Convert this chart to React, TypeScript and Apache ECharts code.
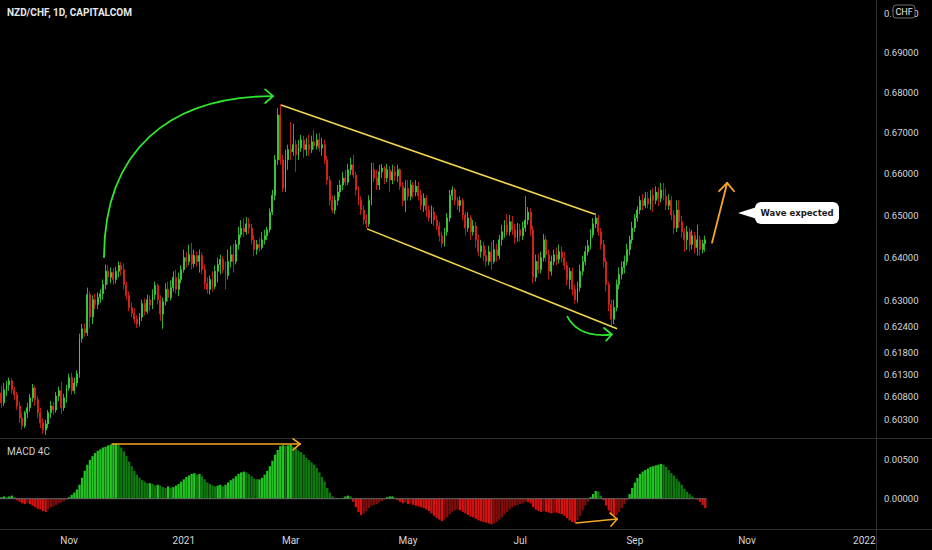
import React, { useEffect, useRef } from "react";
import * as echarts from "echarts";

// ---------- time slots (weekday bars, TradingView style) ----------
const START_DATE = Date.UTC(2020, 8, 25);
const SLOT_COUNT = 336;
const monthNames = ["Jan", "Feb", "Mar", "Apr", "May", "Jun", "Jul", "Aug", "Sep", "Oct", "Nov", "Dec"];
const labelMonths = [0, 2, 4, 6, 8, 10];

// ---------- price data (NZD/CHF daily) ----------
const opens = [
  0.6089,0.6067,0.6096,0.6107,0.6116,0.6096,0.6085,0.6060,0.6033,0.6016,
  0.6045,0.6056,0.6078,0.6100,0.6074,0.6045,0.6022,0.6007,0.6020,0.6045,
  0.6060,0.6051,0.6082,0.6094,0.6056,0.6078,0.6100,0.6123,0.6094,0.6111,
  0.6132,0.6212,0.6234,0.6225,0.6313,0.6261,0.6301,0.6290,0.6306,0.6315,
  0.6336,0.6367,0.6353,0.6364,0.6348,0.6367,0.6381,0.6371,0.6336,0.6311,
  0.6283,0.6270,0.6256,0.6245,0.6261,0.6292,0.6274,0.6301,0.6288,0.6313,
  0.6334,0.6301,0.6268,0.6297,0.6325,0.6306,0.6329,0.6353,0.6325,0.6348,
  0.6371,0.6399,0.6390,0.6406,0.6385,0.6404,0.6390,0.6404,0.6371,0.6339,
  0.6325,0.6348,0.6332,0.6367,0.6383,0.6395,0.6371,0.6357,0.6390,0.6406,
  0.6390,0.6430,0.6453,0.6469,0.6460,0.6479,0.6469,0.6441,0.6418,0.6430,
  0.6423,0.6441,0.6451,0.6465,0.6507,0.6547,0.6633,0.6743,0.6633,0.6564,
  0.6633,0.6658,0.6653,0.6670,0.6645,0.6662,0.6682,0.6658,0.6670,0.6658,
  0.6677,0.6667,0.6682,0.6662,0.6670,0.6633,0.6584,0.6535,0.6512,0.6535,
  0.6555,0.6572,0.6589,0.6579,0.6609,0.6621,0.6596,0.6560,0.6535,0.6512,
  0.6488,0.6479,0.6535,0.6609,0.6589,0.6572,0.6604,0.6613,0.6589,0.6609,
  0.6584,0.6604,0.6594,0.6609,0.6569,0.6535,0.6564,0.6545,0.6572,0.6555,
  0.6569,0.6547,0.6523,0.6540,0.6512,0.6493,0.6507,0.6488,0.6474,0.6451,
  0.6432,0.6460,0.6493,0.6547,0.6560,0.6535,0.6523,0.6535,0.6500,0.6469,
  0.6493,0.6460,0.6474,0.6441,0.6413,0.6427,0.6404,0.6390,0.6413,0.6390,
  0.6418,0.6404,0.6441,0.6460,0.6477,0.6460,0.6484,0.6465,0.6446,0.6465,
  0.6451,0.6469,0.6488,0.6507,0.6465,0.6353,0.6390,0.6371,0.6399,0.6441,
  0.6406,0.6367,0.6390,0.6406,0.6395,0.6413,0.6399,0.6381,0.6348,0.6367,
  0.6325,0.6301,0.6329,0.6367,0.6390,0.6413,0.6427,0.6453,0.6479,0.6493,
  0.6460,0.6430,0.6390,0.6336,0.6290,0.6256,0.6283,0.6336,0.6360,0.6376,
  0.6390,0.6418,0.6441,0.6469,0.6493,0.6512,0.6535,0.6523,0.6540,0.6526,
  0.6547,0.6535,0.6555,0.6540,0.6560,0.6545,0.6523,0.6535,0.6500,0.6469,
  0.6512,0.6484,0.6460,0.6441,0.6460,0.6430,0.6451,0.6423,0.6441,0.6418,
  0.6432,
];
const closes = [
  0.6067,0.6096,0.6107,0.6116,0.6096,0.6085,0.6060,0.6033,0.6016,0.6045,
  0.6056,0.6078,0.6100,0.6074,0.6045,0.6022,0.6007,0.6020,0.6045,0.6060,
  0.6051,0.6082,0.6094,0.6056,0.6078,0.6100,0.6123,0.6094,0.6111,0.6132,
  0.6212,0.6234,0.6225,0.6313,0.6261,0.6301,0.6290,0.6306,0.6315,0.6336,
  0.6367,0.6353,0.6364,0.6348,0.6367,0.6381,0.6371,0.6336,0.6311,0.6283,
  0.6270,0.6256,0.6245,0.6261,0.6292,0.6274,0.6301,0.6288,0.6313,0.6334,
  0.6301,0.6268,0.6297,0.6325,0.6306,0.6329,0.6353,0.6325,0.6348,0.6371,
  0.6399,0.6390,0.6406,0.6385,0.6404,0.6390,0.6404,0.6371,0.6339,0.6325,
  0.6348,0.6332,0.6367,0.6383,0.6395,0.6371,0.6357,0.6390,0.6406,0.6390,
  0.6430,0.6453,0.6469,0.6460,0.6479,0.6469,0.6441,0.6418,0.6430,0.6423,
  0.6441,0.6451,0.6465,0.6507,0.6547,0.6633,0.6743,0.6633,0.6564,0.6633,
  0.6658,0.6653,0.6670,0.6645,0.6662,0.6682,0.6658,0.6670,0.6658,0.6677,
  0.6667,0.6682,0.6662,0.6670,0.6633,0.6584,0.6535,0.6512,0.6535,0.6555,
  0.6572,0.6589,0.6579,0.6609,0.6621,0.6596,0.6560,0.6535,0.6512,0.6488,
  0.6479,0.6535,0.6609,0.6589,0.6572,0.6604,0.6613,0.6589,0.6609,0.6584,
  0.6604,0.6594,0.6609,0.6569,0.6535,0.6564,0.6545,0.6572,0.6555,0.6569,
  0.6547,0.6523,0.6540,0.6512,0.6493,0.6507,0.6488,0.6474,0.6451,0.6432,
  0.6460,0.6493,0.6547,0.6560,0.6535,0.6523,0.6535,0.6500,0.6469,0.6493,
  0.6460,0.6474,0.6441,0.6413,0.6427,0.6404,0.6390,0.6413,0.6390,0.6418,
  0.6404,0.6441,0.6460,0.6477,0.6460,0.6484,0.6465,0.6446,0.6465,0.6451,
  0.6469,0.6488,0.6507,0.6465,0.6353,0.6390,0.6371,0.6399,0.6441,0.6406,
  0.6367,0.6390,0.6406,0.6395,0.6413,0.6399,0.6381,0.6348,0.6367,0.6325,
  0.6301,0.6329,0.6367,0.6390,0.6413,0.6427,0.6453,0.6479,0.6493,0.6460,
  0.6430,0.6390,0.6336,0.6290,0.6256,0.6283,0.6336,0.6360,0.6376,0.6390,
  0.6418,0.6441,0.6469,0.6493,0.6512,0.6535,0.6523,0.6540,0.6526,0.6547,
  0.6535,0.6555,0.6540,0.6560,0.6545,0.6523,0.6535,0.6500,0.6469,0.6512,
  0.6484,0.6460,0.6441,0.6460,0.6430,0.6451,0.6423,0.6441,0.6418,0.6432,
  0.6441,
];
const lows = [
  0.6056,0.6060,0.6082,0.6094,0.6087,0.6074,0.6051,0.6022,0.6007,0.6011,
  0.6033,0.6047,0.6069,0.6060,0.6033,0.6011,0.5998,0.5996,0.6011,0.6033,
  0.6040,0.6045,0.6071,0.6042,0.6049,0.6067,0.6094,0.6085,0.6087,0.6103,
  0.6123,0.6203,0.6216,0.6218,0.6234,0.6245,0.6279,0.6279,0.6294,0.6301,
  0.6325,0.6336,0.6339,0.6336,0.6339,0.6353,0.6357,0.6325,0.6301,0.6274,
  0.6261,0.6247,0.6236,0.6239,0.6252,0.6265,0.6268,0.6274,0.6279,0.6301,
  0.6290,0.6252,0.6234,0.6288,0.6297,0.6299,0.6320,0.6315,0.6309,0.6339,
  0.6364,0.6376,0.6381,0.6371,0.6376,0.6378,0.6364,0.6360,0.6325,0.6315,
  0.6313,0.6320,0.6325,0.6341,0.6360,0.6362,0.6325,0.6348,0.6376,0.6364,
  0.6383,0.6418,0.6446,0.6448,0.6453,0.6455,0.6430,0.6402,0.6406,0.6413,
  0.6418,0.6430,0.6441,0.6458,0.6500,0.6535,0.6621,0.6621,0.6555,0.6555,
  0.6609,0.6633,0.6643,0.6604,0.6633,0.6653,0.6638,0.6643,0.6643,0.6650,
  0.6658,0.6658,0.6653,0.6643,0.6623,0.6572,0.6523,0.6505,0.6502,0.6523,
  0.6543,0.6560,0.6569,0.6572,0.6596,0.6589,0.6547,0.6523,0.6500,0.6477,
  0.6469,0.6472,0.6523,0.6579,0.6560,0.6560,0.6589,0.6574,0.6579,0.6555,
  0.6574,0.6581,0.6579,0.6560,0.6521,0.6507,0.6535,0.6535,0.6540,0.6545,
  0.6535,0.6512,0.6507,0.6495,0.6484,0.6479,0.6474,0.6465,0.6437,0.6423,
  0.6425,0.6451,0.6484,0.6535,0.6523,0.6512,0.6507,0.6488,0.6451,0.6460,
  0.6441,0.6451,0.6423,0.6402,0.6399,0.6390,0.6378,0.6381,0.6371,0.6385,
  0.6390,0.6395,0.6427,0.6446,0.6451,0.6451,0.6453,0.6432,0.6437,0.6437,
  0.6441,0.6460,0.6477,0.6451,0.6339,0.6343,0.6362,0.6362,0.6390,0.6390,
  0.6348,0.6357,0.6381,0.6381,0.6385,0.6388,0.6371,0.6334,0.6325,0.6311,
  0.6292,0.6294,0.6320,0.6357,0.6381,0.6404,0.6418,0.6446,0.6469,0.6451,
  0.6418,0.6376,0.6320,0.6274,0.6239,0.6245,0.6274,0.6325,0.6348,0.6362,
  0.6381,0.6404,0.6432,0.6460,0.6484,0.6502,0.6512,0.6516,0.6516,0.6512,
  0.6507,0.6526,0.6521,0.6530,0.6535,0.6512,0.6512,0.6488,0.6455,0.6460,
  0.6469,0.6446,0.6413,0.6418,0.6413,0.6418,0.6409,0.6404,0.6404,0.6409,
  0.6413,
];
const highs = [
  0.6105,0.6111,0.6116,0.6123,0.6121,0.6103,0.6091,0.6069,0.6045,0.6049,
  0.6067,0.6087,0.6109,0.6105,0.6082,0.6056,0.6033,0.6029,0.6051,0.6071,
  0.6069,0.6091,0.6103,0.6114,0.6087,0.6107,0.6132,0.6134,0.6123,0.6140,
  0.6223,0.6245,0.6247,0.6329,0.6320,0.6311,0.6315,0.6318,0.6325,0.6348,
  0.6383,0.6381,0.6376,0.6374,0.6378,0.6390,0.6388,0.6385,0.6343,0.6320,
  0.6294,0.6281,0.6265,0.6270,0.6301,0.6304,0.6313,0.6311,0.6325,0.6343,
  0.6339,0.6311,0.6306,0.6339,0.6343,0.6346,0.6367,0.6371,0.6364,0.6381,
  0.6418,0.6413,0.6430,0.6434,0.6418,0.6413,0.6418,0.6411,0.6383,0.6353,
  0.6357,0.6367,0.6381,0.6399,0.6406,0.6402,0.6390,0.6418,0.6427,0.6432,
  0.6441,0.6472,0.6488,0.6493,0.6495,0.6493,0.6479,0.6453,0.6441,0.6446,
  0.6460,0.6465,0.6472,0.6516,0.6560,0.6645,0.6760,0.6770,0.6645,0.6658,
  0.6670,0.6726,0.6721,0.6682,0.6682,0.6694,0.6692,0.6687,0.6694,0.6692,
  0.6707,0.6697,0.6699,0.6687,0.6682,0.6643,0.6594,0.6547,0.6547,0.6572,
  0.6584,0.6604,0.6609,0.6623,0.6638,0.6645,0.6604,0.6569,0.6545,0.6523,
  0.6502,0.6547,0.6626,0.6626,0.6609,0.6621,0.6623,0.6618,0.6623,0.6618,
  0.6621,0.6618,0.6621,0.6613,0.6579,0.6584,0.6584,0.6584,0.6579,0.6584,
  0.6579,0.6560,0.6552,0.6547,0.6523,0.6523,0.6519,0.6500,0.6484,0.6460,
  0.6469,0.6505,0.6560,0.6569,0.6564,0.6543,0.6545,0.6540,0.6507,0.6507,
  0.6500,0.6488,0.6484,0.6453,0.6441,0.6437,0.6418,0.6427,0.6437,0.6441,
  0.6432,0.6453,0.6477,0.6488,0.6502,0.6500,0.6498,0.6479,0.6481,0.6479,
  0.6484,0.6545,0.6519,0.6516,0.6474,0.6406,0.6409,0.6413,0.6455,0.6451,
  0.6418,0.6404,0.6418,0.6423,0.6430,0.6425,0.6413,0.6390,0.6376,0.6376,
  0.6336,0.6343,0.6383,0.6404,0.6427,0.6441,0.6467,0.6493,0.6505,0.6500,
  0.6469,0.6441,0.6399,0.6343,0.6301,0.6301,0.6348,0.6376,0.6390,0.6404,
  0.6432,0.6451,0.6484,0.6502,0.6521,0.6545,0.6550,0.6555,0.6555,0.6560,
  0.6564,0.6569,0.6567,0.6577,0.6577,0.6564,0.6550,0.6545,0.6512,0.6535,
  0.6535,0.6498,0.6469,0.6474,0.6469,0.6465,0.6460,0.6477,0.6451,0.6441,
  0.6451,
];

// ---------- MACD 4C histogram ----------
const macd = [
  0.0002,0.0003,0.0002,0.0003,0.0004,0.0002,-0.0002,-0.0004,-0.0006,-0.0007,
  -0.0006,-0.0007,-0.0009,-0.0011,-0.0013,-0.0014,-0.0016,-0.0017,-0.0014,-0.0011,
  -0.0010,-0.0008,-0.0006,-0.0005,-0.0003,-0.0001,0.0002,0.0005,0.0008,0.0012,
  0.0018,0.0027,0.0036,0.0044,0.0050,0.0055,0.0059,0.0062,0.0064,0.0066,
  0.0067,0.0069,0.0070,0.0071,0.0071,0.0070,0.0066,0.0061,0.0055,0.0048,
  0.0042,0.0036,0.0031,0.0027,0.0024,0.0022,0.0020,0.0020,0.0019,0.0017,
  0.0018,0.0017,0.0015,0.0014,0.0016,0.0014,0.0015,0.0017,0.0019,0.0022,
  0.0025,0.0028,0.0030,0.0032,0.0033,0.0031,0.0032,0.0029,0.0025,0.0021,
  0.0019,0.0017,0.0016,0.0017,0.0018,0.0016,0.0018,0.0021,0.0024,0.0026,
  0.0029,0.0032,0.0034,0.0035,0.0034,0.0032,0.0029,0.0026,0.0025,0.0025,
  0.0027,0.0031,0.0036,0.0042,0.0049,0.0057,0.0063,0.0068,0.0069,0.0068,
  0.0069,0.0070,0.0067,0.0065,0.0062,0.0060,0.0057,0.0053,0.0050,0.0047,
  0.0044,0.0040,0.0034,0.0028,0.0022,0.0014,0.0008,0.0003,0.0001,0.0001,
  0.0000,0.0001,0.0003,0.0004,0.0003,-0.0004,-0.0011,-0.0017,-0.0021,-0.0019,
  -0.0016,-0.0012,-0.0009,-0.0008,-0.0007,-0.0005,-0.0003,-0.0001,0.0002,0.0003,
  0.0003,0.0001,-0.0002,-0.0004,-0.0006,-0.0005,-0.0007,-0.0006,-0.0008,-0.0009,
  -0.0010,-0.0011,-0.0012,-0.0014,-0.0016,-0.0019,-0.0022,-0.0025,-0.0027,-0.0029,
  -0.0027,-0.0024,-0.0020,-0.0017,-0.0015,-0.0014,-0.0015,-0.0017,-0.0019,-0.0021,
  -0.0023,-0.0024,-0.0026,-0.0028,-0.0029,-0.0030,-0.0031,-0.0032,-0.0033,-0.0032,
  -0.0030,-0.0027,-0.0024,-0.0020,-0.0017,-0.0014,-0.0011,-0.0009,-0.0008,-0.0007,
  -0.0006,-0.0004,-0.0004,-0.0006,-0.0011,-0.0014,-0.0016,-0.0017,-0.0016,-0.0017,
  -0.0018,-0.0019,-0.0018,-0.0018,-0.0019,-0.0020,-0.0022,-0.0025,-0.0028,-0.0030,
  -0.0031,-0.0028,-0.0022,-0.0015,-0.0009,-0.0004,0.0002,0.0006,0.0010,0.0009,
  0.0004,-0.0002,-0.0009,-0.0015,-0.0020,-0.0022,-0.0021,-0.0017,-0.0012,-0.0007,
  -0.0002,0.0006,0.0014,0.0021,0.0027,0.0032,0.0035,0.0037,0.0039,0.0041,
  0.0042,0.0043,0.0044,0.0045,0.0044,0.0041,0.0037,0.0033,0.0030,0.0026,
  0.0022,0.0018,0.0013,0.0009,0.0006,0.0003,0.0001,-0.0001,-0.0004,-0.0008,
  -0.0012,
];

// ---------- axis ticks ----------
const priceTicks = [0.603, 0.608, 0.613, 0.618, 0.624, 0.63, 0.64, 0.65, 0.66, 0.67, 0.68, 0.69, 0.7];
const macdTicks = [0, 0.005];
const PRICE_MIN = 0.5989;
const PRICE_MAX = 0.7034;
const MACD_MIN = -0.00391;
const MACD_MAX = 0.00784;

// ---------- drawings (bar index, price / macd value) ----------
const channelUpper = [[107.3, 0.6768], [227.7, 0.6502]];
const channelLower = [[140.3, 0.6467], [236.2, 0.6234]];
const bigArc = [[39.4, 0.6399], [39.4, 0.6658], [64.7, 0.679], [104.2, 0.679]];
const bigArcHead = [[101.2, 0.6807], [101.2, 0.6773]];
const smallArc = [[217.0, 0.6263], [221.5, 0.6212], [234.2, 0.6221]];
const smallArcHead = [[231.2, 0.6236], [232.0, 0.6207]];
const waveArrow = [[272.6, 0.6434], [278.4, 0.6577]];
const waveArrowHead = [[275.3, 0.6557], [281.05, 0.6557]];
const macdArrow1 = [[42.5, 0.00707], [114.6, 0.00707]];
const macdArrow1Head = [[111.9, 0.00772], [111.9, 0.0063]];
const macdArrow2 = [[220.4, -0.00314], [236.2, -0.00262]];
const macdArrow2Head = [[233.5, -0.00185], [233.9, -0.00353]];

const UP = "#3ddc3d";
const DOWN = "#e8261c";
const AXIS_TEXT = "#d6d6d6";
const SEP = "#2e2e2e";
const GREEN_DRAW = "#2ee62e";
const ORANGE = "#f5a623";
const YELLOW = "#f2d64b";

function buildCategories(): string[] {
  const out: string[] = [];
  let t = START_DATE;
  while (out.length < SLOT_COUNT) {
    const d = new Date(t);
    const wd = d.getUTCDay();
    if (wd !== 0 && wd !== 6) out.push(d.toISOString().slice(0, 10));
    t += 86400000;
  }
  return out;
}

export default function App() {
  const ref = useRef<HTMLDivElement>(null);

  useEffect(() => {
    document.body.style.margin = "0";
    document.body.style.background = "#000";
    const chart = echarts.init(ref.current!, null, { renderer: "svg" });
    const categories = buildCategories();
    const monthOf = (s: string) => parseInt(s.slice(5, 7), 10) - 1;
    const showLabel = (i: number) => {
      if (i === 0) return false;
      const m = monthOf(categories[i]);
      return m !== monthOf(categories[i - 1]) && labelMonths.indexOf(m) >= 0;
    };

    const candleData = opens.map((o, i) => [
      Math.log(o),
      Math.log(closes[i]),
      Math.log(lows[i]),
      Math.log(highs[i]),
    ]);
    const macdData = macd.map((v, i) => {
      const prev = i > 0 ? macd[i - 1] : v;
      let color;
      if (v >= 0) color = v >= prev ? "#22c422" : "#0e7a0e";
      else color = v <= prev ? "#d41212" : "#820c0c";
      return { value: v, itemStyle: { color } };
    });
    const lnPts = (pts: number[][]) => pts.map((p) => [p[0], Math.log(p[1])]);

    const option: any = {
      animation: false,
      backgroundColor: "#000000",
      textStyle: { fontFamily: "Roboto, 'Liberation Sans', sans-serif" },
      grid: [
        { left: 0, right: 56, top: 0, height: 438 },
        { left: 0, right: 56, top: 438, height: 91 },
      ],
      xAxis: [
        { type: "category", gridIndex: 0, data: categories, show: false, boundaryGap: true },
        { type: "value", gridIndex: 0, min: -0.5, max: SLOT_COUNT - 0.5, show: false },
        {
          type: "category",
          gridIndex: 1,
          data: categories,
          boundaryGap: true,
          axisLine: { show: false },
          axisTick: { show: false },
          splitLine: { show: false },
          axisLabel: {
            color: AXIS_TEXT,
            fontSize: 10,
            margin: 6,
            interval: (i: number) => showLabel(i),
            formatter: (v: string) => {
              const m = monthOf(v);
              return m === 0 ? v.slice(0, 4) : monthNames[m];
            },
          },
        },
        { type: "value", gridIndex: 1, min: -0.5, max: SLOT_COUNT - 0.5, show: false },
      ],
      yAxis: [
        {
          type: "value",
          gridIndex: 0,
          position: "right",
          min: Math.log(PRICE_MIN),
          max: Math.log(PRICE_MAX),
          axisLine: { show: false },
          axisTick: { show: false },
          splitLine: { show: false },
          axisLabel: {
            color: AXIS_TEXT,
            fontSize: 9.5,
            margin: 8,
            customValues: priceTicks.map((p) => Math.log(p)),
            formatter: (v: number) => Math.exp(v).toFixed(5),
          },
        },
        {
          type: "value",
          gridIndex: 1,
          position: "right",
          min: MACD_MIN,
          max: MACD_MAX,
          axisLine: { show: false },
          axisTick: { show: false },
          splitLine: { show: false },
          axisLabel: {
            color: AXIS_TEXT,
            fontSize: 9.5,
            margin: 8,
            customValues: macdTicks,
            formatter: (v: number) => v.toFixed(5),
          },
        },
      ],
      series: [
        {
          type: "candlestick",
          xAxisIndex: 0,
          yAxisIndex: 0,
          data: candleData,
          barWidth: 1.4,
          itemStyle: {
            color: UP,
            color0: DOWN,
            borderColor: UP,
            borderColor0: DOWN,
            borderWidth: 0.8,
          },
          silent: true,
        },
        {
          type: "line",
          xAxisIndex: 1,
          yAxisIndex: 0,
          data: lnPts(channelUpper),
          symbol: "none",
          lineStyle: { color: YELLOW, width: 1.6 },
          silent: true,
          z: 5,
        },
        {
          type: "line",
          xAxisIndex: 1,
          yAxisIndex: 0,
          data: lnPts(channelLower),
          symbol: "none",
          lineStyle: { color: YELLOW, width: 1.6 },
          silent: true,
          z: 5,
        },
        {
          type: "bar",
          xAxisIndex: 2,
          yAxisIndex: 1,
          data: macdData,
          barCategoryGap: "12%",
          silent: true,
        },
        {
          type: "line",
          xAxisIndex: 3,
          yAxisIndex: 1,
          data: [[-0.5, 0], [macd.length - 0.5, 0]],
          symbol: "none",
          lineStyle: { color: "#6a6a6a", width: 1 },
          silent: true,
          z: 3,
        },
      ],
    };
    chart.setOption(option);

    const P = (p: number[]) =>
      chart.convertToPixel({ xAxisIndex: 1, yAxisIndex: 0 } as any, [p[0], Math.log(p[1])]) as number[];
    const M = (p: number[]) =>
      chart.convertToPixel({ xAxisIndex: 3, yAxisIndex: 1 } as any, [p[0], p[1]]) as number[];
    const seg = (a: number[], b: number[], color: string, w: number) => ({
      type: "line",
      shape: { x1: a[0], y1: a[1], x2: b[0], y2: b[1] },
      style: { stroke: color, lineWidth: w, lineCap: "round" },
      silent: true,
      z: 20,
    });
    const head = (tip: number[], ends: number[][], color: string, w: number) =>
      ends.map((e) => seg(e, tip, color, w));

    const a0 = P(bigArc[0]), a1 = P(bigArc[1]), a2 = P(bigArc[2]), a3 = P(bigArc[3]);
    const s0 = P(smallArc[0]), s1 = P(smallArc[1]), s2 = P(smallArc[2]);
    const w0 = P(waveArrow[0]), w1 = P(waveArrow[1]);
    const m10 = M(macdArrow1[0]), m11 = M(macdArrow1[1]);
    const m20 = M(macdArrow2[0]), m21 = M(macdArrow2[1]);

    const graphics: any[] = [
      // pane separators
      { type: "line", shape: { x1: 0, y1: 438.5, x2: 932, y2: 438.5 }, style: { stroke: SEP, lineWidth: 1 }, silent: true, z: 1 },
      { type: "line", shape: { x1: 0, y1: 529.5, x2: 932, y2: 529.5 }, style: { stroke: SEP, lineWidth: 1 }, silent: true, z: 1 },
      { type: "line", shape: { x1: 876.5, y1: 0, x2: 876.5, y2: 550 }, style: { stroke: SEP, lineWidth: 1 }, silent: true, z: 1 },
      // titles
      {
        type: "text",
        x: 7,
        y: 12,
        style: {
          text: "NZD/CHF, 1D, CAPITALCOM",
          fill: "#e8e8e8",
          font: "bold 10px Roboto, 'Liberation Sans', sans-serif",
          verticalAlign: "middle",
        },
        silent: true,
        z: 30,
      },
      {
        type: "text",
        x: 7,
        y: 451,
        style: {
          text: "MACD 4C",
          fill: "#cfcfcf",
          font: "10px Roboto, 'Liberation Sans', sans-serif",
          verticalAlign: "middle",
        },
        silent: true,
        z: 30,
      },
      // CHF badge over the top price label
      {
        type: "rect",
        shape: { x: 893, y: 5, width: 22, height: 13, r: 3 },
        style: { fill: "#000", stroke: "#6a6a6a", lineWidth: 1 },
        silent: true,
        z: 40,
      },
      {
        type: "text",
        x: 904,
        y: 11.5,
        style: {
          text: "CHF",
          fill: "#e8e8e8",
          font: "9px Roboto, 'Liberation Sans', sans-serif",
          align: "center",
          verticalAlign: "middle",
        },
        silent: true,
        z: 41,
      },
      // big green arc
      {
        type: "bezierCurve",
        shape: { x1: a0[0], y1: a0[1], cpx1: a1[0], cpy1: a1[1], cpx2: a2[0], cpy2: a2[1], x2: a3[0], y2: a3[1] },
        style: { stroke: GREEN_DRAW, lineWidth: 1.8, fill: "none" },
        silent: true,
        z: 20,
      },
      ...head(a3, bigArcHead.map(P), GREEN_DRAW, 1.8),
      // small green arc
      {
        type: "bezierCurve",
        shape: { x1: s0[0], y1: s0[1], cpx1: s1[0], cpy1: s1[1], x2: s2[0], y2: s2[1] },
        style: { stroke: GREEN_DRAW, lineWidth: 1.8, fill: "none" },
        silent: true,
        z: 20,
      },
      ...head(s2, smallArcHead.map(P), GREEN_DRAW, 1.8),
      // orange wave arrow
      seg(w0, w1, ORANGE, 1.8),
      ...head(w1, waveArrowHead.map(P), ORANGE, 1.8),
      // MACD arrows
      seg(m10, m11, ORANGE, 1.6),
      ...head(m11, macdArrow1Head.map(M), ORANGE, 1.6),
      seg(m20, m21, ORANGE, 1.6),
      ...head(m21, macdArrow2Head.map(M), ORANGE, 1.6),
      // callout
      {
        type: "polygon",
        shape: { points: [[757, 207], [738, 213], [757, 219]] },
        style: { fill: "#ffffff" },
        silent: true,
        z: 30,
      },
      {
        type: "rect",
        shape: { x: 755, y: 202, width: 84, height: 22, r: 6 },
        style: { fill: "#ffffff" },
        silent: true,
        z: 30,
      },
      {
        type: "text",
        x: 797,
        y: 213,
        style: {
          text: "Wave expected",
          fill: "#1a1a1a",
          font: "bold 8.5px 'DejaVu Sans', sans-serif",
          align: "center",
          verticalAlign: "middle",
        },
        silent: true,
        z: 31,
      },
    ];
    chart.setOption({ graphic: graphics });

    return () => chart.dispose();
  }, []);

  return <div ref={ref} style={{ width: 932, height: 550 }} />;
}
